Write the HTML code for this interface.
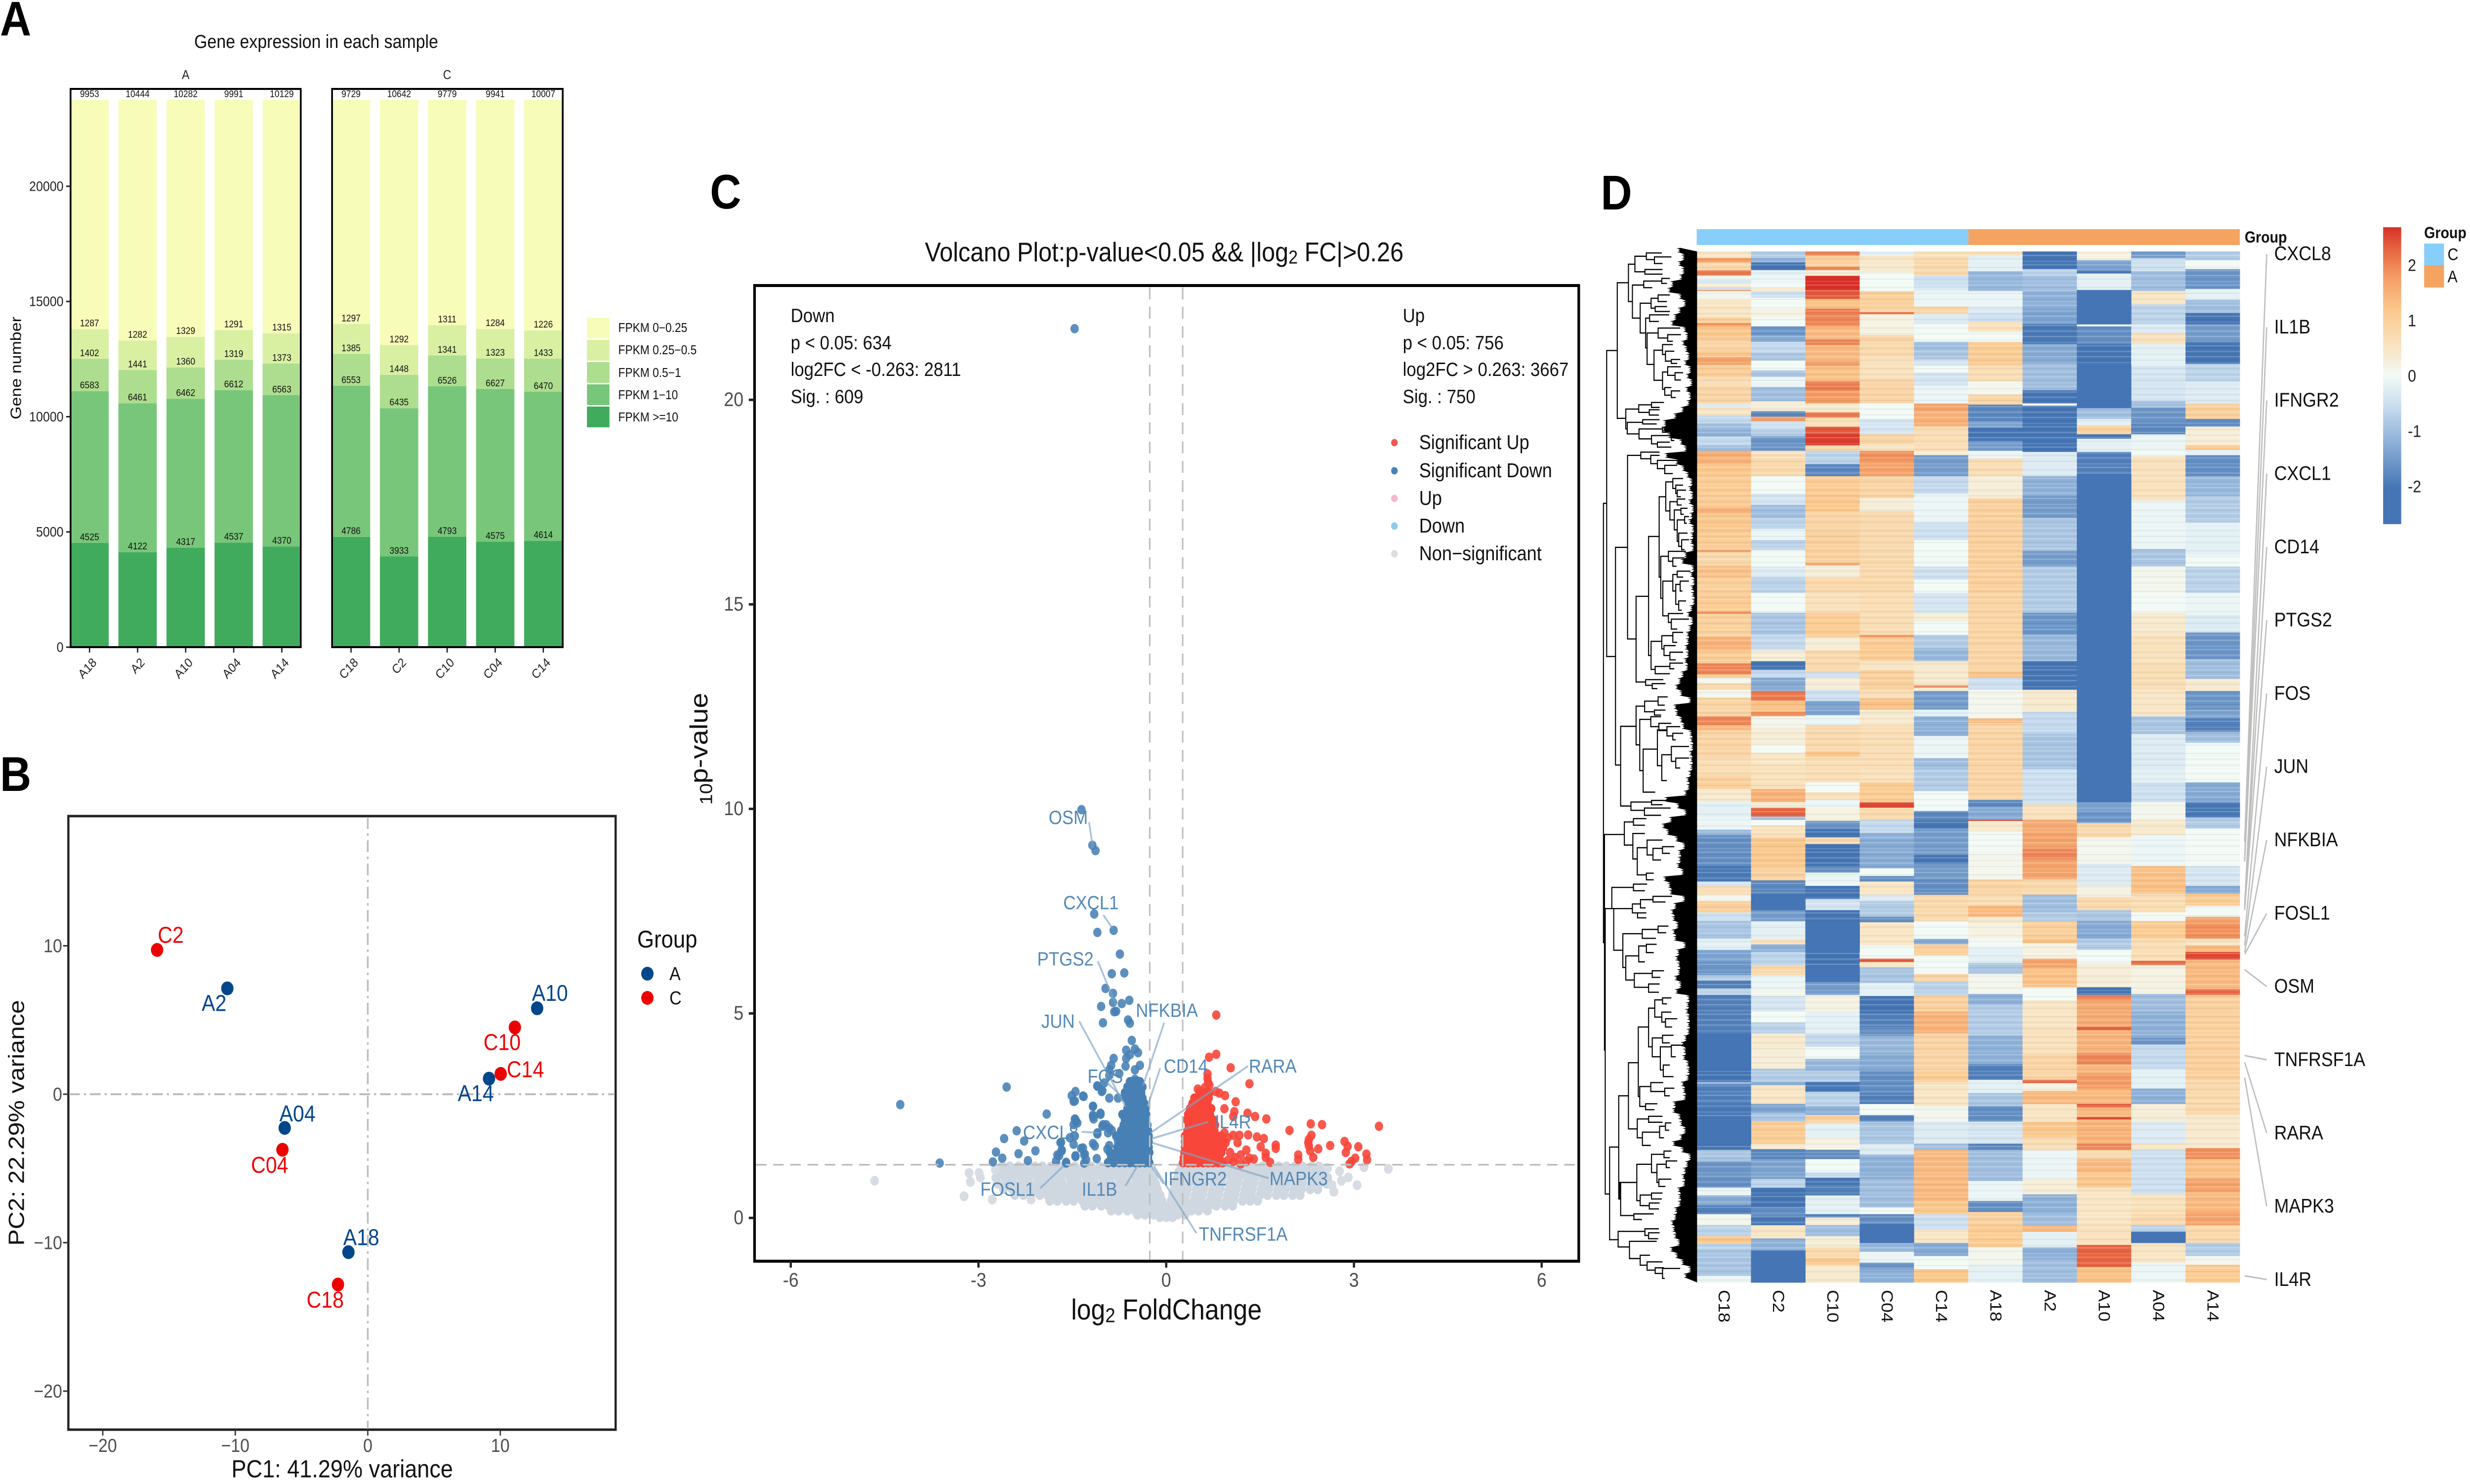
<!DOCTYPE html>
<html lang="en">
<head>
<meta charset="utf-8">
<title>Gene expression multi-panel figure</title>
<style>
html,body{margin:0;padding:0;background:#fff;overflow:hidden;width:100%;height:100%;}
svg{display:block;width:100vw;height:100vh;font-family:"Liberation Sans",sans-serif;}
</style>
</head>
<body>
<svg id="figure" xmlns="http://www.w3.org/2000/svg" viewBox="0 0 5601 3004" preserveAspectRatio="none">
<defs>
<linearGradient id="heatGrad" x1="0" y1="1" x2="0" y2="0"></linearGradient>
<pattern id="stripes" patternUnits="userSpaceOnUse" width="20" height="41">
<rect y="2" width="20" height="2" fill="#fff" fill-opacity=".22"/>
<rect y="7" width="20" height="2" fill="#000" fill-opacity=".05"/>
<rect y="13" width="20" height="3" fill="#fff" fill-opacity=".16"/>
<rect y="19" width="20" height="1.5" fill="#000" fill-opacity=".06"/>
<rect y="24" width="20" height="2" fill="#fff" fill-opacity=".24"/>
<rect y="31" width="20" height="2" fill="#000" fill-opacity=".05"/>
<rect y="36" width="20" height="2" fill="#fff" fill-opacity=".14"/>
</pattern>
</defs>

<g font-weight="bold" font-size="98" fill="#000">
<text x="0" y="72">A</text>
<text x="0" y="1601">B</text>
<text x="1610" y="422">C</text>
<text x="3630" y="424">D</text>
</g>

<g id="panelA">
<text x="717" y="84" font-size="38" text-anchor="middle" dominant-baseline="central" fill="#111">Gene expression in each sample</text>
<text x="421" y="152" font-size="26" text-anchor="middle" dominant-baseline="central" fill="#222">A</text>
<text x="1014" y="152" font-size="26" text-anchor="middle" dominant-baseline="central" fill="#222">C</text>
<text transform="translate(36,745) rotate(-90)" font-size="34" text-anchor="middle" dominant-baseline="central" fill="#111">Gene number</text>
<g font-size="25.5" fill="#111">
<rect x="1331" y="643" width="51" height="42" fill="#F7FCB9"/>
<rect x="1331" y="688" width="51" height="42" fill="#D9F0A3"/>
<rect x="1331" y="733" width="51" height="42" fill="#ADDD8E"/>
<rect x="1331" y="778" width="51" height="42" fill="#78C679"/>
<rect x="1331" y="823" width="51" height="42" fill="#41AB5D"/>
<text x="1402" y="664" dominant-baseline="central">FPKM 0−0.25</text>
<text x="1402" y="709" dominant-baseline="central">FPKM 0.25−0.5</text>
<text x="1402" y="755" dominant-baseline="central">FPKM 0.5−1</text>
<text x="1402" y="800" dominant-baseline="central">FPKM 1−10</text>
<text x="1402" y="845" dominant-baseline="central">FPKM &gt;=10</text>
</g>
</g>

<g id="panelB">
<text x="776" y="2974" font-size="50.5" text-anchor="middle" dominant-baseline="central" fill="#111">PC1: 41.29% variance</text>
<text transform="translate(38,2273) rotate(-90)" font-size="50" text-anchor="middle" dominant-baseline="central" fill="#111">PC2: 22.29% variance</text>
<g>
<text x="1445" y="1901" font-size="49" dominant-baseline="central" fill="#111">Group</text>
<circle cx="1468" cy="1971" r="14" fill="#00468B"/>
<circle cx="1468" cy="2020" r="14" fill="#ED0000"/>
<text x="1518" y="1971" font-size="38" dominant-baseline="central" fill="#111">A</text>
<text x="1518" y="2020" font-size="38" dominant-baseline="central" fill="#111">C</text>
</g>
</g>

<g id="panelC">
<text x="2640" y="510" font-size="54.5" text-anchor="middle" dominant-baseline="central" fill="#111">Volcano Plot:p-value&lt;0.05 &amp;&amp; |log<tspan dy="10" font-size="38">2</tspan><tspan dy="-10"> FC|&gt;0.26</tspan></text>
<text x="2645" y="2651" font-size="58" text-anchor="middle" dominant-baseline="central" fill="#111">log<tspan dy="12" font-size="41">2</tspan><tspan dy="-12"> FoldChange</tspan></text>
<text transform="translate(1604,1586) rotate(-90)" x="-43" y="11" font-size="39" fill="#111">10</text>
<text transform="translate(1604,1586) rotate(-90)" font-size="56" fill="#111">p-value</text>
<g font-size="39" fill="#111">
<text x="1793" y="639" dominant-baseline="central">Down</text>
<text x="1793" y="694" dominant-baseline="central">p &lt; 0.05: 634</text>
<text x="1793" y="748" dominant-baseline="central">log2FC &lt; -0.263: 2811</text>
<text x="1793" y="803" dominant-baseline="central">Sig. : 609</text>
</g>
<g font-size="39" fill="#111">
<text x="3181" y="639" dominant-baseline="central">Up</text>
<text x="3181" y="694" dominant-baseline="central">p &lt; 0.05: 756</text>
<text x="3181" y="748" dominant-baseline="central">log2FC &gt; 0.263: 3667</text>
<text x="3181" y="803" dominant-baseline="central">Sig. : 750</text>
</g>
<g font-size="40.5" fill="#111">
<circle cx="3162" cy="896" r="7.5" fill="#EE5A50"/>
<circle cx="3162" cy="953" r="7.5" fill="#4A82B5"/>
<circle cx="3162" cy="1009" r="7.5" fill="#F4B8C6"/>
<circle cx="3162" cy="1065" r="7.5" fill="#8CCBEA"/>
<circle cx="3162" cy="1121" r="7.5" fill="#DDDDDD"/>
<text x="3218" y="896" dominant-baseline="central">Significant Up</text>
<text x="3218" y="953" dominant-baseline="central">Significant Down</text>
<text x="3218" y="1009" dominant-baseline="central">Up</text>
<text x="3218" y="1065" dominant-baseline="central">Down</text>
<text x="3218" y="1121" dominant-baseline="central">Non−significant</text>
</g>
</g>

<g id="panelD">
<rect x="3847.5" y="464" width="616" height="32" fill="#87CEFA"/>
<rect x="4463.5" y="464" width="615.5" height="32" fill="#F4A460"/>
<text x="5090" y="481" font-size="32" font-weight="bold" dominant-baseline="central" fill="#111">Group</text>
<rect x="5404" y="460" width="41" height="601" fill="url(#heatGrad)"/>
<text x="5497" y="472" font-size="32" font-weight="bold" dominant-baseline="central" fill="#111">Group</text>
<rect x="5497" y="493" width="45" height="44" fill="#87CEFA"/>
<rect x="5497" y="537" width="45" height="45" fill="#F4A460"/>
<text x="5550" y="515" font-size="34" dominant-baseline="central" fill="#111">C</text>
<text x="5550" y="560" font-size="34" dominant-baseline="central" fill="#111">A</text>
</g>
</svg>

<script>
// ---------- Panel A data ----------
const barSamples = ['A18','A2','A10','A04','A14','C18','C2','C10','C04','C14'];
const fpkmGe10   = [4525,4122,4317,4537,4370,4786,3933,4793,4575,4614];
const fpkm1to10  = [6583,6461,6462,6612,6563,6553,6435,6526,6627,6470];
const fpkm05to1  = [1402,1441,1360,1319,1373,1385,1448,1341,1323,1433];
const fpkm025to05= [1287,1282,1329,1291,1315,1297,1292,1311,1284,1226];
const fpkm0to025 = [9953,10444,10282,9991,10129,9729,10642,9779,9941,10007];
const barTicks   = [0,5000,10000,15000,20000];

// ---------- Panel B data ----------
const pcaSamples = ['C2','A2','A10','C10','C14','A14','A04','C04','A18','C18'];
const pc1Values  = [-15.9,-10.6,12.78,11.1,10.03,9.15,-6.27,-6.44,-1.46,-2.25];
const pc2Values  = [9.72,7.13,5.79,4.5,1.37,1.05,-2.27,-3.74,-10.64,-12.82];
const pcaXTicks  = [-20,-10,0,10];
const pcaYTicks  = [-20,-10,0,10];

// ---------- Panel C data: [log2FC, -log10 p] ----------
const volcanoXTicks = [-6,-3,0,3,6];
const volcanoYTicks = [0,5,10,15,20];
const nonSigBands = [
 [1.26,[-2.62,-2.5,-2.36,-2.24,-2.1,-1.98,-1.84,-1.72,-1.58,-1.46,-1.32,-1.2,-1.06,-.94,-.8,-.68,-.54,-.42,-.3,.24,.36,.5,.62,.76,.88,1.02,1.14,1.28,1.4,1.54,1.66,1.8,1.92,2.06,2.18,2.32,2.44]],
 [1.12,[-2.68,-2.56,-2.42,-2.3,-2.16,-2.04,-1.9,-1.78,-1.64,-1.52,-1.38,-1.26,-1.12,-1,-.86,-.74,-.6,-.48,-.36,-.26,.2,.3,.44,.56,.7,.82,.96,1.08,1.22,1.34,1.48,1.6,1.74,1.86,2,2.12,2.26,2.38,2.5]],
 [.98,[-2.72,-2.58,-2.46,-2.32,-2.2,-2.06,-1.94,-1.8,-1.68,-1.54,-1.42,-1.28,-1.16,-1.02,-.9,-.76,-.64,-.5,-.38,-.28,-.2,.18,.26,.38,.52,.64,.78,.9,1.04,1.16,1.3,1.42,1.56,1.68,1.82,1.94,2.08,2.2,2.34,2.46,2.58]],
 [.84,[-2.7,-2.56,-2.44,-2.3,-2.18,-2.04,-1.92,-1.78,-1.66,-1.52,-1.4,-1.26,-1.14,-1,-.88,-.74,-.62,-.48,-.36,-.24,-.17,.15,.24,.36,.5,.62,.76,.88,1.02,1.14,1.28,1.4,1.54,1.66,1.8,1.92,2.06,2.18,2.32,2.44,2.56]],
 [.7,[-2.6,-2.46,-2.34,-2.2,-2.08,-1.94,-1.82,-1.68,-1.56,-1.42,-1.3,-1.16,-1.04,-.9,-.78,-.64,-.52,-.38,-.26,-.14,.13,.22,.34,.48,.6,.74,.86,1,1.12,1.26,1.38,1.52,1.64,1.78,1.9,2.04,2.16,2.3,2.42]],
 [.56,[-2.42,-2.28,-2.16,-2.02,-1.9,-1.76,-1.64,-1.5,-1.38,-1.24,-1.12,-.98,-.86,-.72,-.6,-.46,-.34,-.2,-.1,.1,.2,.32,.46,.58,.72,.84,.98,1.1,1.24,1.36,1.5,1.62,1.76,1.88,2.02,2.14]],
 [.42,[-1.86,-1.74,-1.6,-1.48,-1.34,-1.22,-1.08,-.96,-.82,-.7,-.56,-.44,-.3,-.18,-.07,.08,.18,.3,.44,.56,.7,.82,.96,1.08,1.22,1.34,1.46]],
 [.3,[-1.3,-1.18,-1.04,-.92,-.78,-.66,-.52,-.4,-.26,-.14,-.04,.05,.16,.28,.42,.54,.68,.8,.94,1.06]],
 [.18,[-.88,-.76,-.62,-.5,-.36,-.24,-.1,.02,.14,.26,.4,.52,.66]],
 [.08,[-.46,-.34,-.2,-.08,.06,.18,.3]],
 [.02,[-.1,0,.1]]
];
const nonSigOutliers = [[-3.23,.53],[-2.78,.45],[-3.15,1.1],[-2.99,1.1],[-3.13,.88],[-2.97,.99],[-2.16,.45],[-2.73,1.18],[3.55,1.2],[3.16,1.24],[3.05,.8],[2.91,.99],[2.8,.91],[2.77,1.14],[2.58,1.22],[2.68,.64],[2.65,.8],[-4.66,.91]];
const sigDownScatter = [[-1.464,21.74],[-1.354,9.98],[-1.18,9.11],[-1.13,8.98],[-1.15,7.43],[-.84,7.03],[-1.1,6.98],[-.74,6.45],[-.87,5.97],[-.67,5.99],[-.97,5.61],[-.85,5.49],[-1.04,5.17],[-.85,5.27],[-.59,5.32],[-.71,5.24],[-.83,5.04],[-.8,5.05],[-1.01,4.77],[-.61,4.84],[-.58,4.76],[-.55,4.34],[-.64,4.1],[-.5,4.13],[-.58,3.99],[-.45,4.04],[-.84,3.9],[-.64,3.9],[-.42,3.73],[-.88,3.73],[-.91,3.62],[-.65,3.71],[-.5,3.62],[-.91,3.48],[-.75,3.53],[-.99,3.3],[-1.1,3.22],[-1.02,3.11],[-.5,3.39],[-.45,3.34],[-2.55,3.2],[-4.25,2.77],[-3.62,1.34],[-1.91,2.54],[-1.51,2.99],[-1.45,3.09],[-1.33,2.98],[-1.46,2.86],[-1.17,2.73],[-1.17,2.51],[-1.05,2.53],[-1.16,2.42],[-1.46,2.42],[-1.44,2.36],[-1.48,2.28],[-2.39,2.13],[-2.59,1.94],[-2.27,1.88],[-2.72,1.61],[-2.09,1.64],[-2.36,1.57],[-2.62,1.46],[-2.77,1.37],[-2.21,1.4],[-1.76,1.39],[-1.68,1.85],[-1.74,1.54],[-1.67,1.64],[-1.6,1.36],[-1.54,1.96],[-1.46,2],[-1.33,1.71],[-1.31,1.54],[-1.45,1.5],[-1.28,1.42],[-1.11,1.45],[-1.1,2.05],[-1.02,2.24],[-.96,2.28],[-.87,2.14],[-.8,2],[-1.14,1.76],[-.91,1.77],[-.77,1.87],[-.91,2.93],[-.77,2.93],[-1.69,1.84],[-1.67,1.66],[-1.71,1.52],[-1.6,1.34],[-1.45,1.52],[-1.36,1.7],[-1.3,1.56],[-1.31,1.34],[-1.48,1.8],[-1.17,1.82],[-1.1,2.08],[-1.01,2.28],[-.91,2.2],[-.93,2.08],[-.79,2],[-.94,1.68],[-1.45,2.4],[-1.42,2.32],[-1.17,2.48],[-1.05,2.56],[-1.17,2.73],[-1.03,3.09],[-1.1,3.23],[-1.32,2.97],[-1.48,2.85]];
const sigDownBlob = [
 [1.35,[-.93,-.84,-.75,-.66,-.58,-.5,-.42,-.34,-.27]],
 [1.47,[-.88,-.79,-.7,-.61,-.53,-.45,-.37,-.29]],
 [1.6,[-.9,-.8,-.72,-.63,-.55,-.47,-.39,-.31,-.27]],
 [1.73,[-.78,-.69,-.6,-.51,-.43,-.35,-.28]],
 [1.86,[-.74,-.66,-.57,-.49,-.41,-.33,-.28]],
 [2,[-.67,-.58,-.5,-.42,-.34,-.28]],
 [2.13,[-.72,-.62,-.52,-.44,-.36,-.29]],
 [2.27,[-.68,-.6,-.5,-.42,-.35,-.3]],
 [2.4,[-.66,-.58,-.47,-.39,-.32]],
 [2.53,[-.7,-.64,-.55,-.45,-.37,-.32]],
 [2.67,[-.62,-.53,-.44,-.36,-.33]],
 [2.8,[-.6,-.5,-.42,-.35]],
 [2.93,[-.64,-.55,-.46,-.38]],
 [3.06,[-.66,-.56,-.47,-.4]],
 [3.2,[-.62,-.53,-.44,-.38]],
 [3.33,[-.58,-.5,-.42]]
];
const sigUpScatter = [[.8,4.96],[.8,4],[.685,3.93],[1.03,3.67],[1.33,3.28],[.66,3.52],[.66,3.41],[.67,3.31],[.505,3.15],[.53,3.09],[.62,3.19],[.69,3.25],[.79,3.09],[.85,3.05],[.94,2.99],[1.11,2.84],[.93,2.67],[1.09,2.6],[1.3,2.56],[1.42,2.48],[1.07,2.48],[1.6,2.42],[1.97,2.14],[2.31,2.3],[2.49,2.28],[3.4,2.24],[1.31,2.03],[1.07,2.02],[1.17,2.02],[1.45,1.98],[1.56,1.94],[2.32,2.02],[2.28,1.92],[2.27,1.84],[2.28,1.76],[2.3,1.64],[2.35,1.48],[2.43,1.69],[2.62,1.77],[2.85,1.87],[2.9,1.75],[2.87,1.6],[3.07,1.74],[3.2,1.56],[3.21,1.42],[3.02,1.46],[2.96,1.38],[2.93,1.32],[2.11,1.54],[2.11,1.43],[1.75,1.78],[1.75,1.7],[1.51,1.74],[1.28,1.66],[1.59,1.58],[1.59,1.48],[1.4,1.44],[1.66,1.36],[1.33,1.46],[1.19,1.54],[1.1,1.48],[1.19,1.32],[1.07,1.38],[1.28,1.38],[1.14,1.84],[.98,1.96],[.93,2.08],[.95,1.84],[1.02,1.6],[.98,1.4]];
const sigUpBlob = [
 [1.35,[.27,.35,.43,.51,.59,.67,.75,.83,.9]],
 [1.47,[.28,.36,.44,.53,.61,.69,.77,.85]],
 [1.6,[.29,.37,.46,.54,.62,.71,.79,.88]],
 [1.73,[.3,.38,.47,.55,.64,.72,.8,.91]],
 [1.86,[.3,.39,.48,.56,.65,.74,.82,.9]],
 [2,[.3,.38,.47,.56,.64,.73,.81,.87]],
 [2.13,[.34,.43,.52,.6,.69,.77]],
 [2.27,[.36,.44,.53,.61,.7,.78]],
 [2.4,[.33,.41,.5,.59,.67,.75]],
 [2.53,[.35,.44,.52,.61,.7]],
 [2.67,[.38,.46,.55,.63,.72]],
 [2.8,[.42,.5,.58,.66]],
 [2.93,[.45,.53,.6,.68]],
 [3.06,[.55,.62,.69]]
];
const volcanoGeneNames = ['OSM','CXCL1','PTGS2','JUN','NFKBIA','CD14','RARA','FOS','IL4R','CXCL8','IFNGR2','MAPK3','FOSL1','IL1B','TNFRSF1A'];
const volcanoGeneFC = [-1.17,-.857,-.8,-.65,-.37,-.3,-.25,-.77,-.23,-1.07,-.24,-.23,-1.64,-.46,-.2];
const volcanoGeneP  = [9.03,7.08,5.19,2.72,3.24,2.72,2.08,3.05,1.94,2.08,1.27,1.84,1.27,1.27,1.27];

// ---------- Panel D data: each column is a list of [z-score, end row] runs ----------
const heatSamples = ['C18','C2','C10','C04','C14','A18','A2','A10','A04','A14'];
const heatC18 = [[.5,3],[1.8,5],[.8,8.5],[2.1,11],[.1,13],[-.4,14.5],[.3,16.5],[-.5,17.5],[2,18],[.1,22],[.5,26],[.5,30],[1,32.5],[1.9,34],[1.2,40],[.9,45],[1.2,48],[1.7,51.5],[1.1,57],[.7,61],[.9,69],[-.3,70.5],[.5,74.5],[-.6,78],[-1,81],[-1.2,84],[-.6,88],[-1,90.5],[1.6,92.5],[1.5,96.5],[1.2,102],[1.1,116],[1.5,119],[1.2,128],[1.1,135.5],[1.7,136.5],[.8,142.5],[1.3,148],[1,155],[1.1,163.5],[1.9,164.5],[1,175],[1.5,181],[1.1,187],[2,192],[1.1,193.5],[.1,196],[.8,199],[.1,202.5],[.9,211],[2,215],[1.4,217.5],[.9,230],[.7,238],[1,244],[.4,249.5],[-.2,257],[-.1,262.5],[-1.1,265],[-1.7,279],[-2,286],[-.4,288],[.7,292],[.1,295],[1,300],[-.5,304],[-.9,312],[-.2,317],[-1.4,322.5],[-1.6,328.5],[-.8,331],[-1.9,334.5],[-.7,337.5],[-1.9,355],[-2.4,371],[-2.1,377],[-1,378],[-1.9,387],[-2,394],[-2.4,405],[-2.2,407.8],[-.9,413],[-1.6,421],[-1.7,425],[-.1,428.5],[-1.3,433],[-1.9,437],[.1,442],[-.7,447],[1.2,450.5],[-.7,453],[-.9,465],[-.1,468]];
const heatC2 = [[-.8,3],[-1.2,5],[-2.2,8.5],[-.2,11],[-.1,14.5],[0,16.5],[.4,18],[-.5,21],[0,26],[.2,30],[0,34],[-1.6,38],[-1.3,41],[-.6,46],[-.9,49.5],[0,54],[-.9,57],[-.1,61.5],[-1,68],[.3,72.5],[-1.8,75],[1.8,77],[-.5,81],[-.8,84],[-1.6,90.5],[.6,94],[.8,102],[0,110],[-.4,115],[-1,121],[-.7,126],[-.1,131],[-.7,135.5],[0,143],[-.3,148],[-.7,155],[0,164],[-.9,174],[-.6,181],[.3,186],[-2.1,190],[-.6,193.5],[-1.3,199.5],[2.1,204],[1.3,209],[1.9,211],[.1,216],[.3,224],[0,227.5],[.5,233],[.6,244],[1.5,250],[.3,252.5],[2.3,256.5],[-1,258],[0,260.5],[.6,266],[1.2,279],[1,285.5],[-1.8,291.5],[-2.4,299],[-1.5,304],[-.2,312],[.6,314.5],[-1.2,318],[-.7,324],[.8,328.5],[-.1,335],[.1,338],[-.4,345],[0,350],[-.7,355],[.4,361],[.3,371],[-.8,377],[-1.2,378.5],[.5,387],[-1.4,391],[-.9,395],[1.1,405],[.4,407.5],[-1.8,412],[-1.4,421],[-.7,425],[-2.2,434],[-1.7,438],[-2,442],[.5,448],[-1.2,453.5],[-2.4,468]];
const heatC10 = [[2,2],[1,7],[2,8.5],[.3,11],[2.7,17.5],[2.4,21.5],[1.3,26],[2.1,28],[2,34],[1.4,40],[2,42.5],[1.4,50],[1.8,52],[1.3,59],[2.1,63],[1.8,69],[.4,73],[2.1,75.5],[.6,79.5],[2.4,83],[2.6,88],[.8,90.5],[-.7,96.5],[-1.8,102],[1.1,110],[1.2,118],[.9,127],[1,141.5],[1.7,142.5],[.3,148],[.8,155],[.6,164],[1.1,175],[.3,181],[.8,191],[-.5,193.5],[.3,199],[-.5,204],[-1.4,210.5],[-.1,215],[.8,227],[1.2,229.5],[.7,241],[0,245.5],[.6,249],[-.1,252.5],[.2,258.5],[-1.6,262],[-2.1,266],[.8,269],[-2.2,279],[-1.7,282],[-.1,288],[-2.3,294],[-.4,299],[-2.3,304],[-2.4,318],[-2.3,325],[-2.4,331.5],[-1.5,337.5],[.2,345],[-.2,355],[-.6,361],[0,366.5],[-1.1,372],[-.8,377],[-2,381.5],[-.7,388],[-1.2,392],[1,395.5],[-.2,402],[.2,407.8],[-1.7,412],[0,418],[-.6,420.5],[-2.2,423.5],[-1.9,428.5],[-.2,437],[-1.9,438.5],[.3,442],[-1,447],[.3,452],[.8,457],[1.2,460],[.4,468]];
const heatC04 = [[-.2,2],[.5,4],[.4,9.5],[0,18],[1,25],[.9,27.5],[2.1,28.5],[.2,38],[.9,41],[.8,48],[.6,58],[.9,69],[0,76],[-.4,83],[.9,87.5],[.5,90.5],[1.9,95],[1.7,102],[.9,112],[.3,118],[.8,155],[.7,174],[1.9,175],[1.1,186],[.5,190],[1,199],[.7,203],[1.3,208],[.4,215],[.7,235],[.6,241],[1.1,250],[2.5,252.5],[.8,258],[-.6,264],[-1.2,267],[-1.3,280],[0,283.5],[-1.7,286],[.5,292],[-.3,295],[-.8,302],[-1.7,304.5],[.5,315],[0,321],[2.4,322.5],[.5,325],[-.9,332],[-.2,338],[-2.2,346],[-1.9,352],[-1.7,356],[-1.1,364],[-1.3,372],[-1.7,382],[-1.9,387],[0,392],[-1.9,395],[-.9,405],[-.3,410],[-1.2,421],[-1,434],[0,437],[-1.7,441.5],[-2.4,450],[-1.1,454],[-.1,459],[-1.6,462],[-1.2,468]];
const heatC14 = [[.6,3],[.8,11],[-.5,16],[-.3,18],[-.1,25],[.9,28],[-.3,33],[0,41],[-1,44.5],[-.9,49],[-.4,52],[0,55],[-.4,61],[-.1,69],[1.7,72.5],[1.5,79.5],[.7,90.5],[.3,92.5],[-1.5,102],[-.6,110],[-.1,123],[-.5,131],[0,143],[-.5,149],[0,155],[-.4,164],[.3,168],[0,174],[-.8,180],[-1.1,186],[.4,197],[2,198],[.4,199.5],[-1.5,208],[-.2,211],[-1.2,220],[-.1,230],[-1,235],[-.8,245],[0,254],[-1.8,258.5],[-2.3,262],[-1.5,274],[-2.2,278],[-1.5,285],[-1.7,292],[.8,304],[0,312],[-1.3,314.5],[1,319.5],[0,328],[.9,331.5],[-.7,337.5],[1,345],[1.5,355],[.9,372],[1.1,377],[.5,388],[.1,395],[-.3,405],[-1,407.8],[1.4,431],[1.2,437],[-.5,444],[.5,450],[-1.3,456],[0,462],[1.2,468]];
const heatA18 = [[.6,2],[-.2,9],[-1.1,18],[-.1,25],[-.3,28],[-.5,32],[.6,36.5],[0,41],[1.1,52],[.7,59],[.1,65],[.9,69.5],[-1.8,77],[-1.4,80],[-2.2,86],[-1.5,90.5],[-.1,94],[.7,102],[.3,112],[1,155],[.9,191],[1.3,193.5],[-.5,199],[.1,212],[1.4,214],[.9,249],[-1.8,252],[-1.3,258],[2.5,258.5],[.4,263.5],[0,272],[.1,285],[.9,292],[.7,297],[1.4,302],[.4,305],[.2,312],[0,316],[-.2,323],[-.9,328],[.1,337],[-1.2,342],[-.8,356],[-1.2,369],[-1.9,376],[-.2,382],[-.9,388],[-1.7,395],[-.4,405],[-1.8,407.8],[-1,422],[-.1,431],[-1.7,436],[1,442],[1.1,452],[.1,460],[-.2,468]];
const heatA2 = [[-2.1,8],[-.7,11],[-1,18],[-1.2,26],[-1.4,33],[-2,38],[-2,42],[-1.3,51],[-1,63],[-2.2,69],[0,70],[-2.2,76],[-2.1,91],[-.3,102],[-1.2,111],[-1.5,121],[-.9,136],[-1.5,143],[-.8,164],[-1.6,174],[-1.1,186],[-2.2,199],[.4,209],[-.6,219],[-.9,235],[-.5,251],[.6,258],[1.6,264],[1.7,271],[2,276],[1.7,285],[.8,292],[-1,300],[-.8,304],[1,312],[1.3,314],[.2,321],[1.7,325],[1.3,334],[0,340],[.5,352],[.6,364],[.9,376],[2.3,377.5],[.2,381],[1.4,387],[.5,395],[1.2,402],[.7,408],[-.1,421],[.3,428],[-1.2,437],[-1,442],[1.4,445],[-.2,452],[-1.2,457.5],[-1,468]];
const heatA10 = [[.2,4],[-1.4,8.5],[-2,10],[-.2,17.5],[-2.4,33],[0,34],[-1.7,42],[-2.1,51.5],[-2.4,71],[-1,76],[-.2,79],[1,83],[-2,85],[-.2,91],[-1.9,101],[-2.5,250],[-1.4,254],[-1.6,259.5],[.8,266],[.1,278],[-.3,288],[.2,293],[.8,299],[-.9,304],[-1.3,312],[-.8,317],[0,323],[.3,334],[-2.2,337.5],[2,340],[1.6,352],[2.3,353.5],[1.5,364],[2,369],[1.4,373],[1.8,380],[1.4,387],[2.4,388.5],[1.4,393],[2.5,394],[1.5,405],[2,407.8],[.8,412],[1.4,418],[1.2,425],[.5,441],[.6,451],[2.3,461],[1.3,468]];
const heatA04 = [[-1.5,3],[-.5,9],[-1,18],[.5,24],[-.7,33],[-.3,37],[.6,42],[-.2,52],[-.4,68],[-1,71],[-1.6,78],[-1.8,83],[-.1,90.5],[0,93],[.6,113],[-.1,135],[-.9,143],[.1,155],[0,164],[.4,174],[.6,187],[.7,199],[.5,211],[-.9,219],[-.3,235],[-.2,241],[-.5,250],[.1,258],[.4,265],[-.1,279],[1.3,286],[1.3,291.5],[.7,300],[0,304],[1.1,312],[.7,322],[2.2,324],[.2,337],[-1,345],[-1.2,357],[-1.6,360],[-.6,371],[-.2,380],[-1.2,387],[.3,395],[-.3,405],[.5,407.8],[-.5,428],[.6,437],[.8,442],[-.7,445],[-2.4,450],[.5,459],[-.1,468]];
const heatA14 = [[-.8,4],[0,8],[-1.6,17],[-.2,22],[-1,28],[-2.2,33],[-1.5,41],[-2.1,51],[-.7,59],[-.3,69],[1,76],[-1.7,79.5],[.3,88],[1.2,90],[-.2,92.5],[-1.7,102],[-1.1,111],[-.8,123],[-.2,138],[0,143],[-.7,155],[-.1,165],[-.3,173],[-1.6,185],[-1,194],[.4,199.5],[-1.6,208],[-1.4,212],[-1.9,218],[-1,223],[0,241],[-1.3,250],[-2,257],[-.8,262],[0,279],[-.4,288],[-1.3,291.5],[1.1,297],[0,302],[1.7,305],[1.9,312],[.5,315],[1.4,318],[2.5,321.5],[1.4,335],[2.3,337.5],[1,376],[.8,392],[.4,407],[1.9,412],[1.3,421],[1.7,427],[1.4,436],[1.7,442],[.8,450],[-.8,456],[.1,460],[1.1,468]];
const heatColumns = [heatC18,heatC2,heatC10,heatC04,heatC14,heatA18,heatA2,heatA10,heatA04,heatA14];
const heatLegendTicks = [2,1,0,-1,-2];
const heatGenes = ['CXCL8','IL1B','IFNGR2','CXCL1','CD14','PTGS2','FOS','JUN','NFKBIA','FOSL1','OSM','TNFRSF1A','RARA','MAPK3','IL4R'];
const heatGeneRows = [268,276,277,297,298,299,311,315,318,319,326,365,368,375,465];

// Dendrogram merges: [merge position, first child row, first child position, second child row, second child position]
const dendroUpperLinks = [
 [18,775,40,2103,28],[25,1776,160,2428,30],[30,2000,75,2863,60],
 [40,313,112,1238,100],[112,108,188,518,170],[188,52,232,165,215],[232,28,310,75,300],[310,18,415,38,365],[365,30,480,50,420],[300,68,420,82,420],
 [215,115,292,215,268],[292,103,415,123,350],[415,95,470,110,450],[268,170,342,260,305],[342,155,390,185,370],[390,145,470,165,450],[370,180,450,195,470],[305,215,332,305,315],[332,205,465,225,395],[315,260,390,355,362],[390,245,540,275,455],[455,265,545,285,490],[362,312,420,403,420],[420,295,490,325,440],[440,315,500,345,480],[480,340,540,352,520],[420,378,455,430,435],[455,362,545,388,505],[505,380,560,402,545],[435,425,480,448,475],[480,435,540,455,510],
 [170,490,258,550,180],[258,477,345,500,330],[345,470,430,485,400],[330,492,400,508,395],[180,530,285,565,260],[285,522,400,535,380],[260,550,420,580,345],[420,545,470,560,500],[345,570,480,595,385],[480,565,540,585,500],[385,590,470,605,480],
 [100,908,182,1566,135],[182,630,272,1185,240],[272,620,400,640,340],[340,630,400,655,385],[385,645,520,670,435],[435,660,520,685,490],
 [240,1056,325,1315,305],[325,875,397,1235,342],[397,755,442,998,408],[442,710,490,798,470],[490,700,560,730,510],[510,720,560,745,520],[520,735,580,755,545],[470,770,520,825,500],[520,762,575,780,550],[500,795,545,855,520],[545,790,590,808,565],[520,825,570,890,530],[570,815,600,835,585],[530,865,590,905,550],[550,885,600,915,570],
 [408,935,460,1062,422],[460,920,580,950,490],[490,940,570,965,515],[422,1010,490,1115,460],[490,990,520,1040,510],[520,980,610,998,560],[510,1020,540,1080,530],[540,1010,600,1040,555],[530,1070,580,1098,550],[460,1108,560,1135,480],[480,1125,600,1155,520],
 [342,1192,415,1277,370],[415,1175,490,1215,430],[490,1165,560,1195,520],[430,1205,510,1235,470],[470,1225,560,1248,510],[370,1268,470,1290,470],[470,1258,560,1275,500],[305,1308,425,1325,350],[350,1320,440,1335,385],
 [135,1449,240,1690,205],[240,1388,298,1505,265],[298,1373,390,1405,365],[390,1360,455,1385,435],[365,1400,440,1415,410],[265,1428,340,1583,288],[340,1420,410,1450,395],[395,1440,480,1462,450],[288,1518,385,1648,370],[385,1460,450,1568,415],[450,1450,540,1478,490],[490,1470,560,1490,510],[415,1535,480,1613,450],[480,1510,600,1555,510],[510,1545,600,1575,540]
];
const dendroLowerLinks = [
 [205,110,345,135,297],[345,105,470,118,420],[297,128,475,150,410],[160,170,222,240,218],[222,160,310,180,300],[218,205,300,282,248],[248,248,315,330,310],[315,225,420,270,355],[355,250,420,285,410],[420,245,500,265,470],[310,325,360,345,360],
 [75,368,222,432,88],[222,358,315,378,300],[88,432,215,558,150],[215,418,270,445,250],[270,405,355,430,305],[355,395,485,412,440],[250,445,310,460,310],[150,508,282,610,170],[282,495,390,522,375],[390,485,460,505,445],[170,575,258,648,228],[258,545,310,593,300],[310,540,380,565,360],[228,628,350,670,325],[350,620,430,640,405],[325,660,400,685,395],
 [60,1153,122,1433,118],[122,998,188,1310,128],[188,898,255,1098,248],[255,790,325,1000,265],[325,733,367,850,350],[367,708,420,760,415],[420,702,480,720,450],[415,745,480,775,440],[440,765,520,790,485],[350,823,420,880,405],[420,815,495,838,470],[405,850,480,920,425],[480,845,560,880,510],[425,905,470,940,495],[265,970,340,1030,305],[340,958,425,985,435],[435,975,500,998,470],[305,1022,385,1040,365],
 [248,1068,325,1125,283],[325,1060,420,1078,420],[283,1108,400,1148,340],[400,1090,440,1125,430],[440,1080,480,1102,465],[128,1260,135,1310,135],[135,1260,245,1360,225],[245,1205,345,1315,268],[345,1175,430,1230,382],[430,1165,480,1185,470],[382,1205,445,1260,395],[445,1195,520,1215,470],[395,1250,480,1272,440],[268,1298,345,1330,330],[345,1292,420,1310,415],[330,1322,400,1340,395],[225,1355,360,1372,280],
 [118,1408,300,1455,195],[300,1400,395,1420,325],[325,1412,400,1430,390],[195,1438,380,1490,268],[268,1480,335,1510,315],[315,1500,420,1525,370],[370,1518,430,1535,420],[420,1520,540,1550,435]
];
const dendroLeafEdge = [515,545,520,545,530,470,450,525,555,520,490,470,555,570,545,565,580,560,590,575,600,570,590,580,540,490,420,410,450,530,560,430,500,545,575,600,590,605,590,610,600,590,610,605,600,610,560,540,610,600,615,605,610,615,600,580,605,590,575,575,565,575,560,570,540,520,500,530,590,490,500,530,545,595,600,605,595,600,
 600,590,575,580,560,430,510,560,460,410,440,500,550,520,520,510,540,420,450,460,550,490,470,480,505,480,490,555,510,500,515,515,495,525,500,580,575,570,580,580,580,560,540,555,550,575,580,575,540,550,555,485,480,520,530,555,530,480,540,590,570,555,545,550,515,520,520,495,490,470,480,490,515,465,500,540,590,560];

// ---------- Helpers ----------
const SVGNS = 'http://www.w3.org/2000/svg';
function mk(tag, attrs, parent, text){
  const el = document.createElementNS(SVGNS, tag);
  for (const k in attrs) el.setAttribute(k, attrs[k]);
  if (text !== undefined) el.textContent = text;
  parent.appendChild(el);
  return el;
}
function centered(attrs){
  return Object.assign({'dominant-baseline':'central'}, attrs);
}

// ---------- Panel A ----------
(function(){
  const root = document.getElementById('panelA');
  const y = v => 1310 - v * 0.04665;
  const barX = i => i < 5 ? 203 + 109 * i : 796 + 109 * (i - 5);
  const layers = [
    {vals: fpkmGe10, color: '#41AB5D', name: 'bar-segment-fpkm-ge-10'},
    {vals: fpkm1to10, color: '#78C679', name: 'bar-segment-fpkm-1-10'},
    {vals: fpkm05to1, color: '#ADDD8E', name: 'bar-segment-fpkm-0.5-1'},
    {vals: fpkm025to05, color: '#D9F0A3', name: 'bar-segment-fpkm-0.25-0.5'},
    {vals: fpkm0to025, color: '#F7FCB9', name: 'bar-segment-fpkm-0-0.25'}
  ];
  barSamples.forEach((sample, i) => {
    let base = 0;
    layers.forEach(layer => {
      const v = layer.vals[i];
      const top = y(base + v);
      const seg = mk('rect', {x: barX(i) - 43.5, y: top, width: 87, height: y(base) - top, fill: layer.color}, root);
      
      
      base += v;
    });
    const tick = mk('line', {x1: barX(i), x2: barX(i), y1: 1310, y2: 1321, stroke: '#222', 'stroke-width': 3}, root);
    
    
    const sampleLabel = mk('text', centered({transform: 'translate(' + (barX(i) + 12) + ',1337) rotate(-45)', 'font-size': 26, 'text-anchor': 'end', fill: '#222'}), root, sample);
    
    
  });
  barSamples.forEach((sample, i) => {
    let base = 0;
    layers.forEach(layer => {
      const v = layer.vals[i];
      const top = y(base + v);
      const lab = mk('text', centered({x: barX(i), y: top - 12.5, 'font-size': 19.5, 'text-anchor': 'middle', fill: '#111'}), root, String(v));
      
      
      base += v;
    });
  });
  [[160,522,'facet-frame-a'],[753,523,'facet-frame-c']].forEach(f => {
    const frame = mk('rect', {x: f[0], y: 180, width: f[1], height: 1130, fill: 'none', stroke: '#000', 'stroke-width': 4}, root);
    
    
  });
  barTicks.forEach(t => {
    const tick = mk('line', {x1: 150, x2: 160, y1: y(t), y2: y(t), stroke: '#222', 'stroke-width': 3}, root);
    
    
    const lab = mk('text', centered({x: 144, y: y(t), 'font-size': 28, 'text-anchor': 'end', fill: '#222'}), root, String(t));
    
    
  });
})();

// ---------- Panel B ----------
(function(){
  const root = document.getElementById('panelB');
  const x = v => 834 + v * 30.05;
  const y = v => 2215 - v * 30.05;
  const nudges = {C2:[31,-29],A2:[-30,31],A10:[29,-30],C10:[-29,31],C14:[56,-8],A14:[-30,31],A04:[29,-28],C04:[-29,32],A18:[29,-29],C18:[-29,32]};
  const frame = mk('rect', {x: 155, y: 1652, width: 1241, height: 1242, fill: '#fff', stroke: '#222', 'stroke-width': 5}, root);
  
  
  const hz = mk('line', {x1: 157, x2: 1394, y1: y(0), y2: y(0), stroke: '#BDBDBD', 'stroke-width': 4, 'stroke-dasharray': '24 9 5 9'}, root);
  
  
  const vt = mk('line', {x1: x(0), x2: x(0), y1: 1654, y2: 2892, stroke: '#BDBDBD', 'stroke-width': 4, 'stroke-dasharray': '24 9 5 9'}, root);
  
  
  pcaXTicks.forEach(t => {
    const tick = mk('line', {x1: x(t), x2: x(t), y1: 2894, y2: 2906, stroke: '#333', 'stroke-width': 3}, root);
    
    
    const lab = mk('text', centered({x: x(t), y: 2926, 'font-size': 38, 'text-anchor': 'middle', fill: '#4D4D4D'}), root, String(t).replace('-', '−'));
    
    
  });
  pcaYTicks.forEach(t => {
    const tick = mk('line', {x1: 143, x2: 155, y1: y(t), y2: y(t), stroke: '#333', 'stroke-width': 3}, root);
    
    
    const lab = mk('text', centered({x: 141, y: y(t), 'font-size': 38, 'text-anchor': 'end', fill: '#4D4D4D'}), root, String(t).replace('-', '−'));
    
    
  });
  pcaSamples.forEach((s, i) => {
    const color = s[0] === 'A' ? '#00468B' : '#ED0000';
    const pt = mk('circle', {cx: x(pc1Values[i]), cy: y(pc2Values[i]), r: 14, fill: color}, root);
    
    
    const n = nudges[s];
    const lab = mk('text', centered({x: x(pc1Values[i]) + n[0], y: y(pc2Values[i]) + n[1], 'font-size': 46, 'text-anchor': 'middle', fill: color}), root, s);
    
    
  });
})();

// ---------- Panel C ----------
(function(){
  const root = document.getElementById('panelC');
  const x = v => 2644.5 + v * 141.9;
  const y = v => 2465.4 - v * 82.8;
  const plot = (fc, p, color, r, opacity, name) => {
    const pt = mk('circle', {cx: x(fc), cy: y(p), r: r, fill: color, 'fill-opacity': opacity}, root);
    
    
  };
  nonSigBands.forEach(b => b[1].forEach(fc => plot(fc, b[0], '#CFD7E0', 10, 1, 'volcano-point-non-significant')));
  nonSigOutliers.forEach(d => plot(d[0], d[1], '#D8DDE3', 10, 1, 'volcano-point-non-significant'));
  sigDownBlob.forEach(b => b[1].forEach(fc => plot(fc, b[0], '#4680B4', 9.5, 1, 'volcano-point-significant-down')));
  sigDownScatter.forEach(d => plot(d[0], d[1], '#4680B4', 9.5, .88, 'volcano-point-significant-down'));
  sigUpBlob.forEach(b => b[1].forEach(fc => plot(fc, b[0], '#F8463A', 9.5, 1, 'volcano-point-significant-up')));
  sigUpScatter.forEach(d => plot(d[0], d[1], '#F8463A', 9.5, .9, 'volcano-point-significant-up'));

  [-0.263, 0.263].forEach(v => {
    const l = mk('line', {x1: x(v), x2: x(v), y1: 582, y2: 2550, stroke: '#BEBEBE', 'stroke-width': 3.5, 'stroke-dasharray': '24 15'}, root);
    
    
  });
  const pl = mk('line', {x1: 1714, x2: 3577, y1: y(1.3), y2: y(1.3), stroke: '#BEBEBE', 'stroke-width': 3.5, 'stroke-dasharray': '24 15'}, root);
  
  

  const labelOffsets = {OSM:[-56,-63],CXCL1:[-49,-52],PTGS2:[-115,-94.5],JUN:[-153,-173],NFKBIA:[54,-152],CD14:[87,-82],RARA:[277,-135],FOS:[-29,-34],IL4R:[184,-34],CXCL8:[-110,-1],IFNGR2:[100,26],MAPK3:[333,73],FOSL1:[-127,47],IL1B:[-86,47],TNFRSF1A:[203,138]};
  const lineStarts = {OSM:[-9,-53.5],CXCL1:[-21,-27],PTGS2:[-41.6,-90],JUN:[-105,-173],NFKBIA:[48,-127],CD14:[29,-78],RARA:[221,-135],FOS:[-30,-26],IL4R:[128,-34],CXCL8:[-40,-2],IFNGR2:[28,36],MAPK3:[265,72],FOSL1:[-53,45],IL1B:[-27,40],TNFRSF1A:[97,136]};
  volcanoGeneNames.forEach((g, i) => {
    const px = x(volcanoGeneFC[i]), py = y(volcanoGeneP[i]);
    const c = mk('line', {x1: px + lineStarts[g][0], y1: py + lineStarts[g][1], x2: px, y2: py, stroke: '#7FA3C4', 'stroke-opacity': .65, 'stroke-width': 4}, root);
    
    
  });
  volcanoGeneNames.forEach((g, i) => {
    const px = x(volcanoGeneFC[i]), py = y(volcanoGeneP[i]);
    const t = mk('text', centered({x: px + labelOffsets[g][0], y: py + labelOffsets[g][1], 'font-size': 39, 'text-anchor': 'middle', fill: '#5288B6'}), root, g);
    
    
  });

  const frame = mk('rect', {x: 1711, y: 578, width: 1869, height: 1975, fill: 'none', stroke: '#000', 'stroke-width': 6}, root);
  
  
  volcanoXTicks.forEach(t => {
    const tick = mk('line', {x1: x(t), x2: x(t), y1: 2553, y2: 2566, stroke: '#222', 'stroke-width': 5}, root);
    
    
    const lab = mk('text', centered({x: x(t), y: 2592, 'font-size': 40, 'text-anchor': 'middle', fill: '#4D4D4D'}), root, String(t));
    
    
  });
  volcanoYTicks.forEach(t => {
    const tick = mk('line', {x1: 1698, x2: 1711, y1: y(t), y2: y(t), stroke: '#222', 'stroke-width': 5}, root);
    
    
    const lab = mk('text', centered({x: 1686, y: y(t), 'font-size': 40, 'text-anchor': 'end', fill: '#4D4D4D'}), root, String(t));
    
    
  });
})();

// ---------- Panel D ----------
(function(){
  const root = document.getElementById('panelD');
  const stops = [[-2.7,[69,117,180]],[-2.05,[69,117,180]],[-1.3,[133,170,212]],[-.5,[205,224,240]],[0,[242,250,246]],[.45,[248,231,200]],[1.2,[251,200,140]],[1.8,[244,155,100]],[2.3,[230,100,65]],[2.7,[215,48,39]]];
  const color = v => {
    if (v <= stops[0][0]) return 'rgb(' + stops[0][1].join(',') + ')';
    for (let i = 1; i < stops.length; i++) {
      if (v <= stops[i][0]) {
        const a = stops[i-1], b = stops[i], t = (v - a[0]) / (b[0] - a[0]);
        return 'rgb(' + a[1].map((c, k) => Math.round(c + (b[1][k] - c) * t)).join(',') + ')';
      }
    }
    return 'rgb(' + stops[stops.length-1][1].join(',') + ')';
  };
  const colX = i => 3847.5 + i * 123.15;
  const rowY = r => 509 + r * 4.4594;

  heatColumns.forEach((runs, c) => {
    let start = 0;
    runs.forEach(run => {
      const cell = mk('rect', {x: colX(c), y: rowY(start), width: 123.6, height: rowY(run[1]) - rowY(start) + .5, fill: color(run[0])}, root);
      
      
      start = run[1];
    });
    const lab = mk('text', centered({transform: 'translate(' + (colX(c) + 61.5) + ',2611) rotate(90)', 'font-size': 36, fill: '#111'}), root, heatSamples[c]);
    
    
  });
  const texture = mk('rect', {x: 3847.5, y: 509, width: 1231.5, height: 2087, fill: 'url(#stripes)'}, root);
  
  
  // saturated runs stay flat, so they sit above the texture
  heatColumns.forEach((runs, c) => {
    let start = 0;
    runs.forEach(run => {
      if (run[0] <= -2.35) {
        const flat = mk('rect', {x: colX(c), y: rowY(start), width: 123.6, height: rowY(run[1]) - rowY(start) + .5, fill: color(run[0])}, root);
        
        
      }
      start = run[1];
    });
  });

  // dendrogram
  const dx = h => 3630 + h * 0.3333;
  const dy = v => 500 + v * 0.6696;
  const link = (b, off) => {
    const d = 'M' + dx(b[2]) + ' ' + dy(b[1] + off) + 'H' + dx(b[0]) + 'V' + dy(b[3] + off) + 'H' + dx(b[4]);
    const p = mk('path', {d: d, fill: 'none', stroke: '#000', 'stroke-width': 2.4}, root);
    
    
  };
  dendroUpperLinks.forEach(b => link(b, 0));
  dendroLowerLinks.forEach(b => link(b, 1568));
  let leaf = 'M' + dx(655) + ' 509';
  dendroLeafEdge.forEach((e, i) => {
    const v = 10 + i * 20;
    leaf += 'L' + dx(e + 25) + ' ' + dy(v - 7.5)
      + 'L' + dx(e) + ' ' + dy(v - 5.5) + 'L' + dx(e + 25) + ' ' + dy(v - 3)
      + 'L' + dx(e + 12) + ' ' + dy(v) + 'L' + dx(e + 25) + ' ' + dy(v + 3)
      + 'L' + dx(e + 5) + ' ' + dy(v + 5.5) + 'L' + dx(e + 25) + ' ' + dy(v + 7.5);
  });
  leaf += 'L' + dx(655) + ' 2596Z';
  const mass = mk('path', {d: leaf, fill: '#000'}, root);
  
  

  // gene mark labels
  heatGenes.forEach((g, i) => {
    const ly = 514 + i * 148.3;
    const c = mk('line', {x1: 5090, y1: rowY(heatGeneRows[i]), x2: 5140, y2: ly, stroke: '#BEBEBE', 'stroke-width': 3}, root);
    
    
    const t = mk('text', centered({x: 5157, y: ly, 'font-size': 40, fill: '#111'}), root, g);
    
    
  });

  // colorbar
  const grad = document.getElementById('heatGrad');
  stops.forEach(s => {
    const st = mk('stop', {offset: ((s[0] + 2.7) / 5.4 * 100) + '%', 'stop-color': 'rgb(' + s[1].join(',') + ')'}, grad);
    
    
  });
  heatLegendTicks.forEach(t => {
    const lab = mk('text', centered({x: 5460, y: 761 - t * 112, 'font-size': 34, fill: '#222'}), root, String(t));
    
    
  });
})();
</script>
</body>
</html>
